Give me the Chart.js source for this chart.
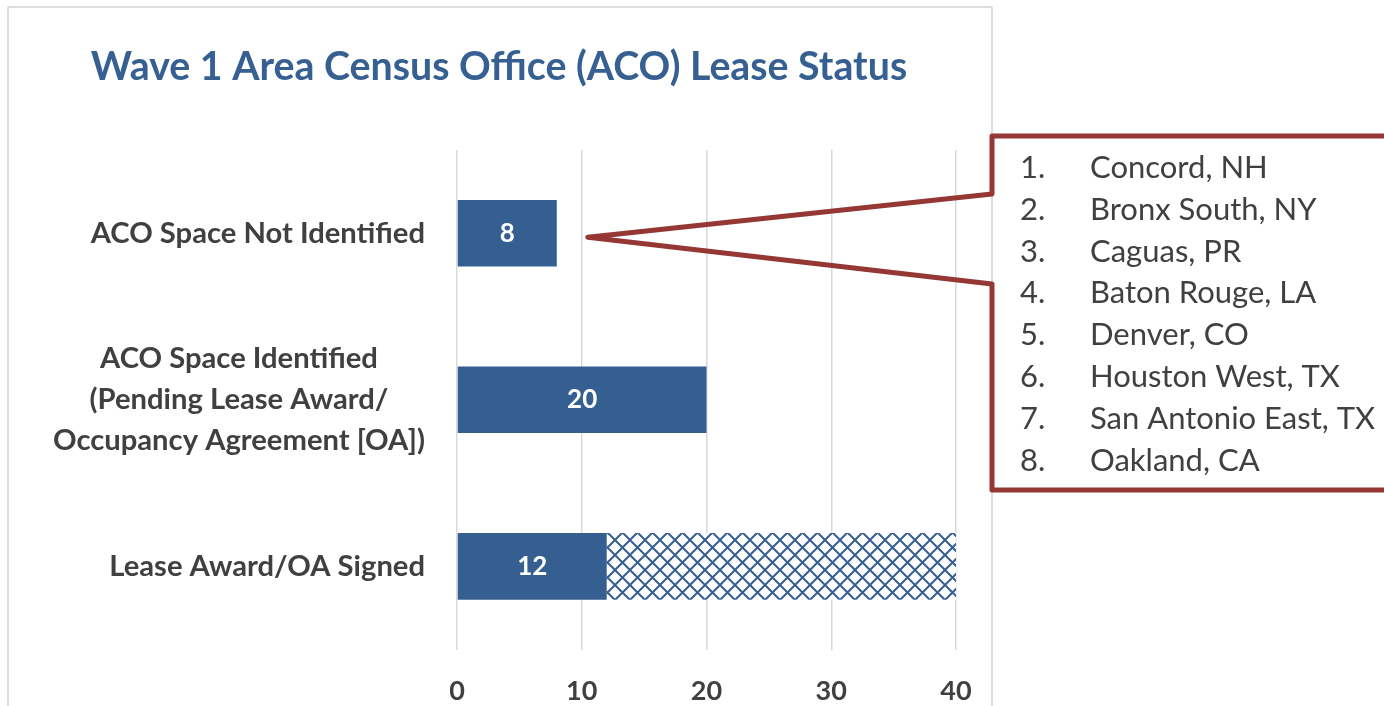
<!DOCTYPE html>
<html lang="en">
<head>
  <meta charset="UTF-8">
  <title>Wave 1 ACO Lease Status</title>
  <script src="https://cdn.jsdelivr.net/npm/chart.js"></script>
  <style>
    body { margin: 0; background: #ffffff; }
    canvas { display: block; }
  </style>
</head>
<body>

  <canvas id="leaseChart" width="1384" height="706"></canvas>

  <script>
    const chartTitle = 'Wave 1 Area Census Office (ACO) Lease Status';
    const categories = [
      ['ACO Space Not Identified'],
      ['ACO Space Identified', '(Pending Lease Award/', 'Occupancy Agreement [OA])'],
      ['Lease Award/OA Signed']
    ];
    const officeCounts = [8, 20, 12];
    // hatched remainder of the 40 offices on the signed row
    const remainingCounts = [0, 0, 28];
    const xTicks = [0, 10, 20, 30, 40];
    const unidentifiedOffices = [
      'Concord, NH', 'Bronx South, NY', 'Caguas, PR', 'Baton Rouge, LA',
      'Denver, CO', 'Houston West, TX', 'San Antonio East, TX', 'Oakland, CA'
    ];

    const blue = '#365f91';
    const textGray = '#404040';
    const calloutRed = '#953735';
    const fontFamily = 'Lato, "Open Sans", sans-serif';

    function makeHatch() {
      const size = 15;
      const c = document.createElement('canvas');
      c.width = size;
      c.height = size;
      const g = c.getContext('2d');
      g.fillStyle = '#ffffff';
      g.fillRect(0, 0, size, size);
      g.strokeStyle = blue;
      g.lineWidth = 2;
      g.beginPath();
      g.moveTo(0, 0); g.lineTo(size, size);
      g.moveTo(size, 0); g.lineTo(0, size);
      g.stroke();
      return g.createPattern(c, 'repeat');
    }

    const leaseDecor = {
      id: 'leaseDecor',
      beforeDraw(chart) {
        const ctx = chart.ctx;
        ctx.save();
        // outer chart frame
        ctx.strokeStyle = '#d4d4d4';
        ctx.lineWidth = 1.5;
        ctx.strokeRect(8, 7, 984, 720);
        // title
        ctx.fillStyle = '#376092';
        ctx.font = 'bold 39.3px ' + fontFamily;
        ctx.textAlign = 'center';
        ctx.textBaseline = 'middle';
        ctx.fillText(chartTitle, 499, 67);
        ctx.restore();
      },
      afterDatasetsDraw(chart) {
        const ctx = chart.ctx;
        const x = chart.scales.x;
        const y = chart.scales.y;
        ctx.save();

        // values inside the solid bars
        ctx.fillStyle = '#ffffff';
        ctx.font = 'bold 26px ' + fontFamily;
        ctx.textAlign = 'center';
        ctx.textBaseline = 'middle';
        chart.getDatasetMeta(0).data.forEach((bar, i) => {
          ctx.fillText(officeCounts[i], (bar.base + bar.x) / 2, bar.y);
        });

        // category labels: multi-line centred, block right-aligned
        ctx.fillStyle = textGray;
        ctx.font = 'bold 29.2px ' + fontFamily;
        const right = x.left - 32;
        categories.forEach((lines, i) => {
          const w = Math.max(...lines.map(l => ctx.measureText(l).width));
          const cx = right - w / 2;
          const cy = y.getPixelForValue(i);
          const lh = 41;
          lines.forEach((line, j) => {
            ctx.fillText(line, cx, cy + (j - (lines.length - 1) / 2) * lh);
          });
        });

        // callout listing the offices without space
        const tipX = x.getPixelForValue(officeCounts[0]) + 31;
        const tipY = y.getPixelForValue(0) + 4;
        const boxL = 992, boxT = 136, boxB = 490, boxR = 1400;
        ctx.strokeStyle = calloutRed;
        ctx.lineWidth = 5;
        ctx.lineJoin = 'round';
        ctx.beginPath();
        ctx.moveTo(boxR, boxT);
        ctx.lineTo(boxL, boxT);
        ctx.lineTo(boxL, 194);
        ctx.lineTo(tipX, tipY);
        ctx.lineTo(boxL, 284);
        ctx.lineTo(boxL, boxB);
        ctx.lineTo(boxR, boxB);
        ctx.stroke();

        ctx.fillStyle = textGray;
        ctx.font = '31px ' + fontFamily;
        ctx.textAlign = 'left';
        unidentifiedOffices.forEach((name, i) => {
          const ly = 168 + i * 41.8;
          ctx.fillText((i + 1) + '.', 1020, ly);
          ctx.fillText(name, 1090, ly);
        });
        ctx.restore();
      }
    };

    new Chart(document.getElementById('leaseChart'), {
      type: 'bar',
      data: {
        labels: categories,
        datasets: [
          {
            label: 'Offices',
            data: officeCounts,
            backgroundColor: blue,
            barPercentage: 0.4,
            categoryPercentage: 1
          },
          {
            label: 'Remaining',
            data: remainingCounts,
            backgroundColor: makeHatch(),
            barPercentage: 0.4,
            categoryPercentage: 1
          }
        ]
      },
      options: {
        indexAxis: 'y',
        responsive: false,
        animation: false,
        layout: { padding: { left: 457, right: 428, top: 150, bottom: -26 } },
        plugins: {
          legend: { display: false },
          title: { display: false },
          tooltip: { enabled: false }
        },
        scales: {
          x: {
            stacked: true,
            min: xTicks[0],
            max: xTicks[xTicks.length - 1],
            afterBuildTicks: axis => { axis.ticks = xTicks.map(v => ({ value: v })); },
            border: { display: false },
            grid: { color: '#d9d9d9', lineWidth: 1.5, drawTicks: false },
            ticks: {
              color: textGray,
              padding: 25,
              font: { family: fontFamily, size: 27, weight: 'bold' }
            }
          },
          y: {
            stacked: true,
            display: false
          }
        }
      },
      plugins: [leaseDecor]
    });
  </script>

</body>
</html>
